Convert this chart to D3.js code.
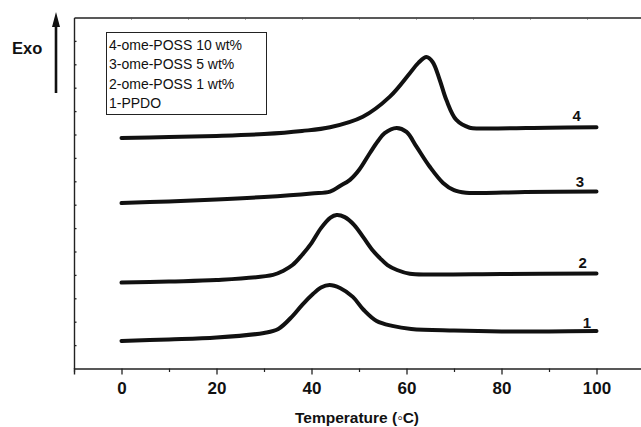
<!DOCTYPE html>
<html>
<head>
<meta charset="utf-8">
<script src="https://cdn.jsdelivr.net/npm/d3@7"></script>
<style>
  body { margin: 0; background: #fff; }
  svg { display: block; font-family: "Liberation Sans", Arial, Helvetica, sans-serif; }
</style>
</head>
<body>
<svg id="chart" width="641" height="427"></svg>
<script>
// DSC cooling curves (temperature in C, heat flow in arbitrary units)
var curve1 = [[0,1.18],[10,1.24],[20,1.32],[30,1.52],[33,1.69],[36,2.24],[38,2.71],[40.3,3.18],[42,3.46],[43.8,3.57],
              [46,3.44],[48.7,3.06],[51,2.5],[53.7,2.03],[57,1.82],[61,1.69],[70,1.62],[80,1.58],[90,1.58],[100,1.60]];
var curve2 = [[0,3.67],[10,3.72],[20,3.78],[31.9,4.00],[34,4.17],[36,4.42],[38,4.85],[40,5.36],[42,6.00],[44,6.45],
              [45.3,6.56],[47,6.47],[49,6.13],[51,5.58],[53,5.02],[54.4,4.72],[56,4.42],[58,4.21],[60.7,4.05],[65,4.02],
              [80,4.04],[100,4.06]];
var curve3 = [[0,7.07],[10,7.14],[20,7.22],[30,7.33],[40,7.48],[43.9,7.56],[46,7.80],[48.1,8.06],[50,8.48],[52.3,9.21],
              [54,9.72],[55.4,10.06],[57.9,10.28],[60,10.11],[62.1,9.48],[64.9,8.62],[67.7,7.93],[70,7.62],[72.5,7.51],
              [76,7.50],[85,7.54],[100,7.56]];
var curve4 = [[0,9.85],[10,9.89],[20,9.94],[30,10.02],[38,10.15],[43.9,10.31],[50.8,10.76],[56.5,11.62],[60.7,12.62],
              [62.5,13.06],[64.2,13.31],[65.5,13.10],[67,12.33],[68.4,11.47],[70.5,10.62],[73.3,10.29],[76,10.26],
              [90,10.29],[100,10.31]];

var curveNames = ["1", "2", "3", "4"];
var curveLabelPos = [[98.0,1.75],[97.1,4.30],[96.5,7.77],[95.85,10.58]];
var legendLines = ["4-ome-POSS 10 wt%", "3-ome-POSS 5 wt%", "2-ome-POSS 1 wt%", "1-PPDO"];

var xMajorTicks = [0, 20, 40, 60, 80, 100];
var xMinorTicks = [-10, 10, 30, 50, 70, 90, 110];
var xTopTicks = [2, 14, 26, 38, 50, 62, 74, 86, 98];
var yTicks = d3.range(1, 15);

function drawDsc() {
  var svg = d3.select("#chart"),
      margin = {left: 74, right: 644, top: 17.5, bottom: 368.5};

  var x = d3.scaleLinear().domain([-10, 110]).range([margin.left, margin.right]),
      y = d3.scaleLinear().domain([0, 15]).range([margin.bottom, margin.top]);

  var axisColor = "#222";

  // bottom axis, major ticks with labels
  var xAxis = svg.append("g")
    .attr("transform", "translate(0," + margin.bottom + ")")
    .call(d3.axisBottom(x).tickValues(xMajorTicks).tickSize(6).tickPadding(7).tickFormat(d3.format("d")));
  xAxis.select(".domain").attr("stroke", axisColor).attr("stroke-width", 1.4);
  xAxis.selectAll(".tick line").attr("stroke", axisColor).attr("stroke-width", 1.3);
  xAxis.selectAll(".tick text")
    .attr("fill", "#111")
    .style("font-size", "17px")
    .style("font-weight", "bold");

  // minor ticks
  var xMinor = svg.append("g")
    .attr("transform", "translate(0," + margin.bottom + ")")
    .call(d3.axisBottom(x).tickValues(xMinorTicks).tickSize(3.5).tickFormat(""));
  xMinor.select(".domain").remove();
  xMinor.selectAll(".tick line").attr("stroke", axisColor).attr("stroke-width", 1.2);

  // top frame line
  var xTop = svg.append("g")
    .attr("transform", "translate(0," + margin.top + ")")
    .call(d3.axisTop(x).tickValues(xTopTicks).tickSize(-2).tickSizeOuter(0).tickFormat(""));
  xTop.select(".domain").attr("stroke", axisColor).attr("stroke-width", 1.4);
  xTop.selectAll(".tick line").attr("stroke", "#555").attr("stroke-width", 1);

  // left axis, inward ticks, no labels
  var yAxis = svg.append("g")
    .attr("transform", "translate(" + margin.left + ",0)")
    .call(d3.axisLeft(y).tickValues(yTicks).tickSize(-2.5).tickSizeOuter(0).tickFormat(""));
  yAxis.select(".domain").attr("stroke", axisColor).attr("stroke-width", 1.4);
  yAxis.selectAll(".tick line").attr("stroke", axisColor).attr("stroke-width", 1.3);

  // axis title
  svg.append("text")
    .attr("x", 357)
    .attr("y", 423)
    .attr("text-anchor", "middle")
    .attr("fill", "#111")
    .style("font-size", "15.5px")
    .style("font-weight", "bold")
    .text("Temperature (\u25E6C)");

  // Exo arrow
  svg.append("line")
    .attr("x1", 56).attr("y1", 93)
    .attr("x2", 56).attr("y2", 24)
    .attr("stroke", "#111").attr("stroke-width", 2.6);
  svg.append("path")
    .attr("d", "M56,12 L52,27 L60,27 Z")
    .attr("fill", "#111");
  svg.append("text")
    .attr("x", 12)
    .attr("y", 54)
    .attr("fill", "#111")
    .style("font-size", "16.5px")
    .style("font-weight", "bold")
    .text("Exo");

  // legend box
  var legend = svg.append("g").attr("class", "legend");
  legend.append("rect")
    .attr("x", 106.5).attr("y", 32.5)
    .attr("width", 160).attr("height", 82)
    .attr("fill", "#fff")
    .attr("stroke", "#222")
    .attr("stroke-width", 1);
  legend.selectAll("text")
    .data(legendLines)
    .enter().append("text")
    .attr("x", 109)
    .attr("y", function(d, i) { return 50 + i * 19.3; })
    .attr("fill", "#111")
    .style("font-size", "14px")
    .text(function(d) { return d; });

  // curves
  var line = d3.line()
    .x(function(d) { return x(d[0]); })
    .y(function(d) { return y(d[1]); })
    .curve(d3.curveCatmullRom.alpha(0.5));

  var curves = [curve1, curve2, curve3, curve4];
  svg.selectAll(".dsc")
    .data(curves)
    .enter().append("path")
    .attr("class", "dsc")
    .attr("d", line)
    .attr("fill", "none")
    .attr("stroke", "#111")
    .attr("stroke-width", 4)
    .attr("stroke-linecap", "round")
    .attr("stroke-linejoin", "round");

  // curve numbers
  svg.selectAll(".curve-label")
    .data(curveNames)
    .enter().append("text")
    .attr("class", "curve-label")
    .attr("x", function(d, i) { return x(curveLabelPos[i][0]); })
    .attr("y", function(d, i) { return y(curveLabelPos[i][1]); })
    .attr("text-anchor", "middle")
    .attr("fill", "#111")
    .style("font-size", "15px")
    .style("font-weight", "bold")
    .text(function(d) { return d; });
}

drawDsc();
</script>
</body>
</html>
